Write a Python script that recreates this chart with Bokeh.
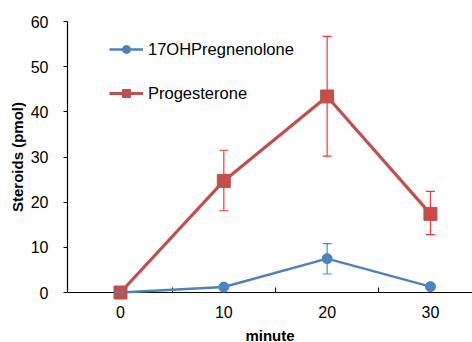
from bokeh.plotting import figure
from bokeh.models import (ColumnDataSource, Whisker, TeeHead, Legend, LegendItem,
                          FixedTicker, Range1d)
from bokeh.embed import file_html
from bokeh.resources import INLINE

minutes = [0, 10, 20, 30]
oh_preg = [0.0, 1.2, 7.5, 1.3]
oh_preg_err_lo = [0.0, 1.2, 4.1, 1.3]
oh_preg_err_hi = [0.0, 1.2, 10.8, 1.3]
progesterone = [0.0, 24.7, 43.4, 17.4]
prog_err_lo = [0.0, 18.1, 30.2, 12.8]
prog_err_hi = [0.0, 31.5, 56.7, 22.4]
y_ticks = [0, 10, 20, 30, 40, 50, 60]
x_ticks = [0, 10, 20, 30]
x_minor = [5, 15, 25]

FONT = "Liberation Sans"
BLUE = "#4F81BD"
RED = "#C0504D"

p = figure(width=472, height=342, frame_width=405, frame_height=271,
           output_backend="svg", toolbar_location=None,
           x_range=Range1d(-5.13, 34.07), y_range=Range1d(0, 60),
           min_border_left=67, min_border_top=21, min_border_right=0, min_border_bottom=50)
p.outline_line_color = None
p.grid.visible = False
p.background_fill_color = "white"

src_oh = ColumnDataSource(dict(x=minutes, y=oh_preg, lo=oh_preg_err_lo, hi=oh_preg_err_hi))
src_pr = ColumnDataSource(dict(x=minutes, y=progesterone, lo=prog_err_lo, hi=prog_err_hi))

l_oh = p.line("x", "y", source=src_oh, line_color=BLUE, line_width=2.5, level="overlay")
s_oh = p.scatter("x", "y", source=src_oh, marker="circle", size=10, fill_color=BLUE,
                 line_color=BLUE, level="overlay")
l_pr = p.line("x", "y", source=src_pr, line_color=RED, line_width=3.2, level="overlay")
s_pr = p.scatter("x", "y", source=src_pr, marker="square", size=13, fill_color=RED,
                 line_color=RED, level="overlay")

w_pr = Whisker(source=src_pr, base="x", lower="lo", upper="hi", line_color="#FF3535", line_width=1.2,
               upper_head=TeeHead(size=9, line_color="#FF3535", line_width=1.2),
               lower_head=TeeHead(size=9, line_color="#FF3535", line_width=1.2), level="overlay")
w_oh = Whisker(source=src_oh, base="x", lower="lo", upper="hi", line_color="#3A8FD8", line_width=1.2,
               upper_head=TeeHead(size=9, line_color="#3A8FD8", line_width=1.2),
               lower_head=TeeHead(size=9, line_color="#3A8FD8", line_width=1.2), level="overlay")
p.add_layout(w_pr)
p.add_layout(w_oh)

legend = Legend(items=[LegendItem(label="17OHPregnenolone", renderers=[l_oh, s_oh]),
                       LegendItem(label="Progesterone", renderers=[l_pr, s_pr])],
                location=(42, 189), orientation="vertical",
                glyph_width=34, glyph_height=20, label_height=20, label_standoff=5, spacing=24,
                padding=0, margin=0, border_line_color=None, background_fill_alpha=0,
                label_text_font=FONT, label_text_font_size="16.5px", label_text_color="black")
p.add_layout(legend)

xa = p.xaxis[0]
xa.ticker = FixedTicker(ticks=x_ticks, minor_ticks=x_minor)
xa.major_tick_in = 0
xa.major_tick_out = 0
xa.minor_tick_in = 5
xa.minor_tick_out = 0
xa.minor_tick_line_color = "black"
xa.axis_line_color = "black"
xa.axis_line_width = 1.2
xa.major_label_standoff = 13
xa.major_label_text_font = FONT
xa.major_label_text_font_size = "16px"
xa.major_label_text_color = "black"
xa.axis_label = "minute"
xa.axis_label_text_font = FONT
xa.axis_label_text_font_size = "15px"
xa.axis_label_text_font_style = "bold"
xa.axis_label_text_color = "black"
xa.axis_label_standoff = 6

ya = p.yaxis[0]
ya.ticker = FixedTicker(ticks=y_ticks)
ya.major_tick_in = 0
ya.major_tick_out = 4
ya.minor_tick_in = 0
ya.minor_tick_out = 0
ya.axis_line_color = "black"
ya.axis_line_width = 1.2
ya.major_tick_line_color = "black"
ya.major_label_standoff = 15
ya.major_label_text_font = FONT
ya.major_label_text_font_size = "16px"
ya.major_label_text_color = "black"
ya.axis_label = "Steroids (pmol)"
ya.axis_label_text_font = FONT
ya.axis_label_text_font_size = "15px"
ya.axis_label_text_font_style = "bold"
ya.axis_label_text_color = "black"
ya.axis_label_standoff = 2

open("out.html", "w").write(file_html(p, INLINE))
